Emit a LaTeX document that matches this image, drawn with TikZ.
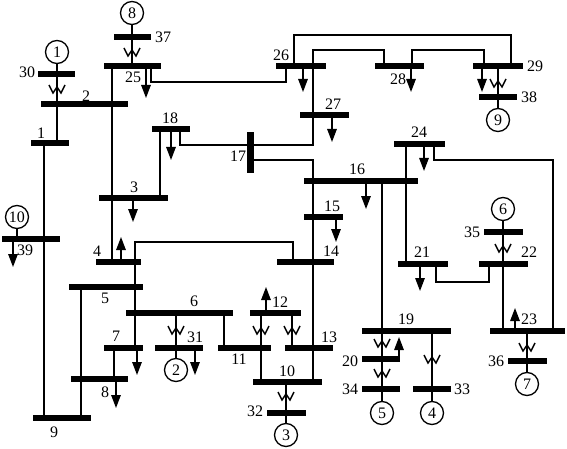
\documentclass[tikz,border=0pt]{standalone}
\usepackage{fontspec}
\setmainfont{Liberation Serif}
\usetikzlibrary{arrows.meta}
\tikzset{
  busbar/.style={draw=none,fill=black,rectangle,inner sep=0pt,minimum height=5.5pt},
  wire/.style={line width=1.4pt,line join=miter},
  loadarrow/.style={line width=1.4pt,-{Triangle[length=13pt,width=9.5pt]}},
  gen/.style={draw,circle,line width=1.3pt,fill=white,inner sep=0pt,minimum size=23pt,
              font=\fontsize{16}{16}\selectfont},
  buslabel/.style={inner sep=0pt,font=\fontsize{16}{16}\selectfont}
}
\begin{document}
\begin{tikzpicture}[x=1pt,y=-1pt]
  \useasboundingbox (0,0) rectangle (567,449);
  \def\xfmr#1#2{%
    \draw[wire,shift={(#1,#2)}] (-8,-4) -- (-4,4) -- (0,-2) -- (4,4) -- (8,-4);
  }

  % horizontal bars: number / left / right / height
  \foreach \n/\a/\b/\y in {
    1/31/69/143, 2/41/128/104, 3/99/168/198, 4/96/141/262, 5/69/143/287,
    6/126/233/313, 7/104/143/348, 8/71/128/379, 9/33/91/418, 10/253/322/382,
    11/218/271/348, 12/250/301/313, 13/285/333/348, 14/277/334/262, 15/304/343/217,
    16/304/418/181, 18/152/190/129, 19/362/451/331, 20/362/400/359, 21/398/448/264,
    22/479/528/264, 23/490/565/331, 24/394/445/144, 25/104/161/66, 26/276/326/66,
    27/300/349/115, 28/375/424/66, 29/473/523/66, 30/38/75/74, 31/155/203/348,
    32/267/306/413, 33/413/451/389, 34/362/400/389, 35/484/523/232, 36/508/547/361,
    37/114/151/37, 38/479/517/97, 39/2/60/239%
  }{
    \node[busbar,minimum width={(\b-\a)*1pt}] (b\n) at ({(\a+\b)/2},\y) {};
  }
  \node[busbar,minimum width=7pt,minimum height=41pt] (b17) at (250,152.5) {};

  % generators
  \foreach \n/\x/\y/\s in {
    1/57/52/1, 2/176/370/6, 3/286/435/10, 4/432/413/19, 5/382/413/16,
    6/503/209/23, 7/527/384/23, 8/132/13/25, 9/498/120/29, 10/17/217/39%
  }{
    \node[gen] (g\n) at (\x,\y) {\n};
    \draw[wire] (g\n) -- (g\n |- b\s);
  }

  % straight lines between bars
  \foreach \x/\s/\t in {
    112/25/4, 44/1/9, 81/5/9, 135/4/7, 114/7/8, 160/18/3, 224/6/11,
    261/12/10, 292/12/13, 313/16/10, 406/24/21%
  }{
    \draw[wire] (\x,0 |- b\s) -- (\x,0 |- b\t);
  }

  % lines with bends
  \draw[wire] (286,0 |- b26) -- (286,82) -- (151,82) -- (151,0 |- b25);
  \draw[wire] (294,0 |- b26) -- (294,35) -- (511,35) -- (511,0 |- b29);
  \draw[wire] (384,0 |- b28) -- (384,50) -- (313,50) -- (313,145) -- (b17 |- 0,145);
  \draw[wire] (412,0 |- b28) -- (412,50) -- (484,50) -- (484,0 |- b29);
  \draw[wire] (180,0 |- b18) -- (180,145) -- (b17 |- 0,145);
  \draw[wire] (b17 |- 0,160) -- (313,160) -- (313,0 |- b16);
  \draw[wire] (135,0 |- b4) -- (135,242) -- (293,242) -- (293,0 |- b14);
  \draw[wire] (434,0 |- b24) -- (434,160) -- (553,160) -- (553,0 |- b23);
  \draw[wire] (436,0 |- b21) -- (436,282) -- (489,282) -- (489,0 |- b22);

  % loads
  \foreach \n/\x/\y in {
    3/133/222, 4/121/237, 7/137/375, 8/116/408, 12/266/287, 15/336/242, 16/366/209,
    18/171/160, 20/399/337, 21/420/291, 23/515/308, 24/424/171, 25/146/98,
    26/303/92, 27/332/142, 28/411/92, 29/482/92, 31/195/375, 39/13/267%
  }{
    \coordinate (ld\n) at (\x,\y);
    \draw[loadarrow] (ld\n |- b\n) -- (ld\n);
  }

  \xfmr{57}{89}
  \xfmr{132}{52}
  \xfmr{498}{83}
  \xfmr{503}{248}
  \xfmr{527}{347}
  \xfmr{382}{343}
  \xfmr{382}{373}
  \xfmr{432}{359}
  \xfmr{286}{396}
  \xfmr{176}{330}
  \xfmr{261}{330}
  \xfmr{292}{330}

  % bus numbers
  \foreach \t/\x/\y in {
    1/41/133, 2/86/96, 3/134/187, 4/97/251, 5/105/298, 6/194/301, 7/116/336, 8/105/392,
    9/54/432, 10/287/371, 11/239/359, 12/280/302, 13/329/337, 14/331/251, 15/332/206,
    16/357/169, 17/238/156, 18/170/118, 19/406/319, 20/350/361, 21/422/252, 22/529/252,
    23/529/319, 24/419/132, 25/133/77, 26/281/55, 27/333/104, 28/398/79, 29/535/66,
    30/27/72, 31/195/337, 32/255/411, 33/462/389, 34/350/389, 35/472/232, 36/496/361,
    37/163/37, 38/529/97, 39/25/250%
  }{
    \node[buslabel] (l\t) at (\x,\y) {\t};
  }
\end{tikzpicture}
\end{document}
